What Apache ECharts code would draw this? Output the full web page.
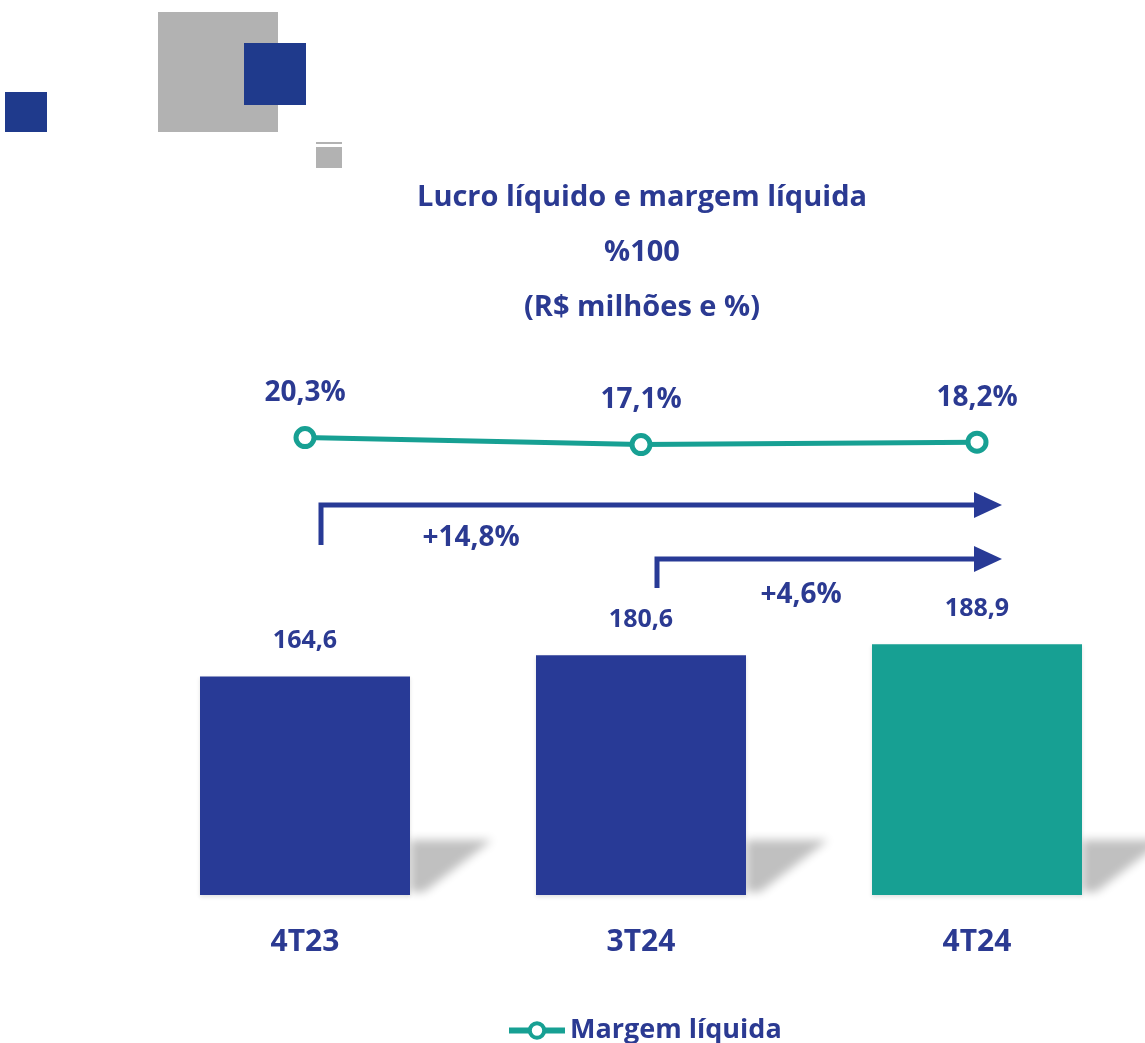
<!DOCTYPE html>
<html>
<head>
<meta charset="utf-8">
<script src="https://cdn.jsdelivr.net/npm/echarts@6/dist/echarts.min.js"></script>
<style>
  html, body { margin: 0; padding: 0; background: #fff; }
  #chart { width: 1145px; height: 1043px; }
</style>
</head>
<body>
<div id="chart"></div>
<script>
// valores
const categories = ['4T23', '3T24', '4T24'];
const lucroLiquido = [164.6, 180.6, 188.9];
const margemLiquida = [20.3, 17.1, 18.2];
const growthFrom = [0, 1];
const growthLabels = ['+14,8%', '+4,6%'];

const NAVY = '#283a96';
const TEXT = '#2b3a92';
const TEAL = '#17a093';
const FONT = '"Open Sans", "Noto Sans", sans-serif';

const fmt = (v) => v.toFixed(1).replace('.', ',');

const chart = echarts.init(document.getElementById('chart'));

const grids = [
  { left: 137, width: 1009, top: 563, bottom: 148 },
  { left: 137, width: 1009, top: 263, bottom: 561 },
];

chart.setOption({
  animation: false,
  backgroundColor: '#fff',
  title: {
    text: 'Lucro líquido e margem líquida\n%100\n(R$ milhões e %)',
    left: 637,
    top: 165,
    textAlign: 'center',
    textStyle: {
      color: TEXT, fontFamily: FONT, fontWeight: 700, fontSize: 29, lineHeight: 55,
    },
  },
  legend: {
    data: ['Margem líquida'],
    left: 501,
    top: 1012,
    itemWidth: 56,
    itemHeight: 18,
    itemGap: 4,
    lineStyle: { width: 6 },
    itemStyle: { borderWidth: 4 },
    textStyle: { color: TEXT, fontFamily: FONT, fontWeight: 700, fontSize: 27 },
  },
  grid: grids,
  xAxis: [
    {
      gridIndex: 0,
      type: 'category',
      data: categories,
      axisLine: { show: false },
      axisTick: { show: false },
      axisLabel: {
        margin: 32, color: TEXT, fontFamily: FONT, fontWeight: 700, fontSize: 30,
      },
    },
    {
      gridIndex: 1,
      type: 'category',
      data: categories,
      show: false,
    },
  ],
  yAxis: [
    { gridIndex: 0, type: 'value', min: 0, max: 250, show: false },
    { gridIndex: 1, type: 'value', min: 0, max: 100, show: false },
  ],
  series: [
    {
      // sombra difusa atrás das barras (forma fora da tela, só a sombra aparece)
      type: 'custom',
      xAxisIndex: 0,
      yAxisIndex: 0,
      silent: true,
      clip: false,
      z: 1,
      data: lucroLiquido.map((v, i) => [i, v]),
      renderItem: (params, api) => {
        const base = api.coord([api.value(0), 0]);
        const x = base[0] + 105 - 3000;
        const y = base[1];
        return {
          type: 'polygon',
          shape: { points: [[x, y - 55], [x + 82, y - 55], [x + 14, y - 3], [x, y - 3]] },
          style: {
            fill: '#c8c8c8',
            shadowBlur: 10,
            shadowColor: 'rgba(192,192,192,1)',
            shadowOffsetX: 3000,
          },
        };
      },
    },
    {
      name: 'Lucro líquido',
      type: 'bar',
      xAxisIndex: 0,
      yAxisIndex: 0,
      z: 2,
      data: lucroLiquido,
      barWidth: 210,
      itemStyle: {
        color: (p) => (p.dataIndex === lucroLiquido.length - 1 ? TEAL : NAVY),
        shadowBlur: 4,
        shadowColor: 'rgba(0,0,0,0.12)',
        shadowOffsetY: 2,
      },
      label: {
        show: true,
        position: 'top',
        distance: 23,
        formatter: (p) => fmt(p.value),
        color: TEXT,
        fontFamily: FONT,
        fontWeight: 700,
        fontSize: 25,
      },
    },
    {
      name: 'Margem líquida',
      type: 'line',
      xAxisIndex: 1,
      yAxisIndex: 1,
      data: margemLiquida,
      symbol: 'circle',
      symbolSize: 18,
      z: 3,
      lineStyle: { color: TEAL, width: 5 },
      itemStyle: { color: '#fff', borderColor: TEAL, borderWidth: 5 },
      label: {
        show: true,
        position: 'top',
        distance: 19,
        formatter: (p) => fmt(p.value) + '%',
        color: TEXT,
        fontFamily: FONT,
        fontWeight: 700,
        fontSize: 28,
      },
    },
  ],
});

// elementos decorativos e setas de variação
function buildGraphics() {
  const els = [
    { id: 'd1', type: 'rect', shape: { x: 5, y: 92, width: 42, height: 40 }, style: { fill: '#1f3a8c' } },
    { id: 'd2', type: 'rect', shape: { x: 158, y: 12, width: 120, height: 120 }, style: { fill: '#b2b2b2' } },
    { id: 'd3', type: 'rect', shape: { x: 244, y: 43, width: 62, height: 62 }, style: { fill: '#1f3a8c' } },
    { id: 'd4', type: 'rect', shape: { x: 316, y: 142, width: 26, height: 2 }, style: { fill: '#b2b2b2' } },
    { id: 'd5', type: 'rect', shape: { x: 316, y: 147, width: 26, height: 21 }, style: { fill: '#b2b2b2' } },
  ];
  const lineY = [505, 559];
  const stem = [40, 29];
  const labelDx = [150, 144];
  const labelDy = [33, 36];
  const endCenter = chart.convertToPixel({ xAxisIndex: 0 }, categories[categories.length - 1]);
  growthFrom.forEach((from, k) => {
    const fx = chart.convertToPixel({ xAxisIndex: 0 }, categories[from]) + 16;
    const y = lineY[k];
    const ex = endCenter - 2;
    els.push({
      id: 'arr' + k,
      type: 'polyline',
      shape: { points: [[fx, y + stem[k]], [fx, y], [ex, y]] },
      style: { stroke: NAVY, lineWidth: 5, fill: null },
    });
    els.push({
      id: 'head' + k,
      type: 'polygon',
      shape: { points: [[ex - 1, y - 13], [endCenter + 25, y], [ex - 1, y + 13]] },
      style: { fill: NAVY },
    });
    els.push({
      id: 'lbl' + k,
      type: 'text',
      x: fx + labelDx[k],
      y: y + labelDy[k],
      style: {
        text: growthLabels[k],
        fill: TEXT,
        font: '700 28px ' + FONT,
        align: 'center',
        verticalAlign: 'middle',
      },
    });
  });
  return els;
}

chart.setOption({ graphic: buildGraphics() });
</script>
</body>
</html>
